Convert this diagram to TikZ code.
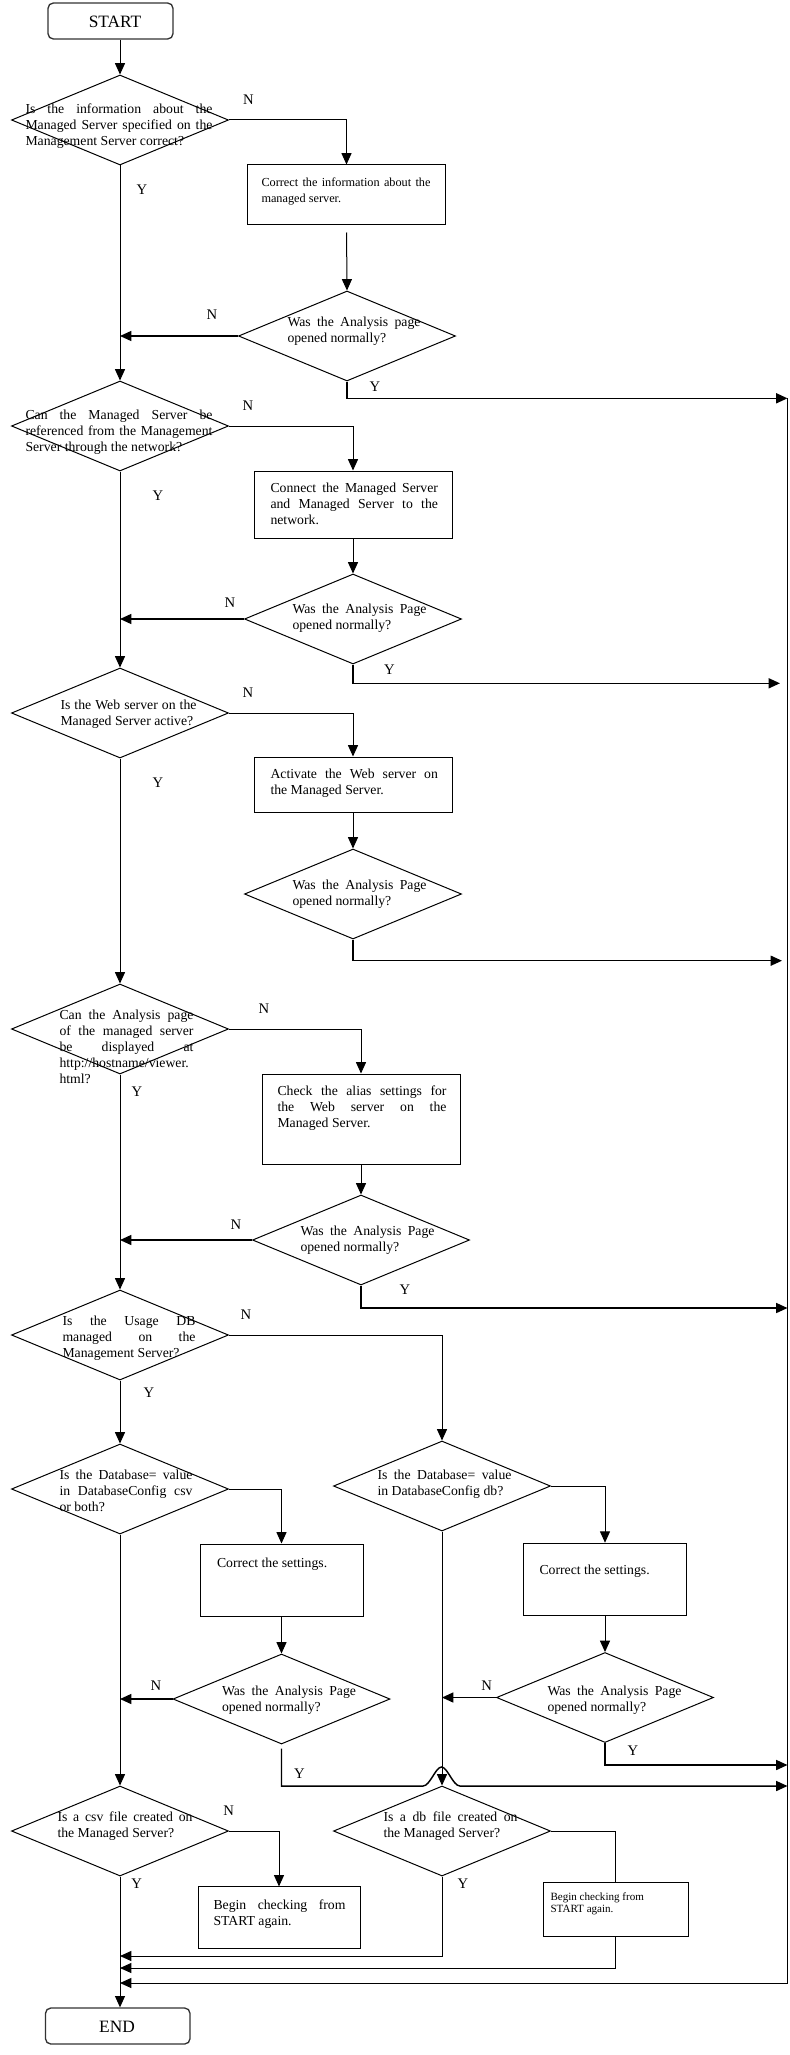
\documentclass[tikz,border=0pt]{standalone}
\usepackage{fontspec}
\setmainfont{Liberation Serif}
\usetikzlibrary{arrows.meta,shapes.geometric,calc}
\begin{document}
\begin{tikzpicture}[x=0.75pt,y=-0.75pt,line width=0.75pt,
  dia/.style={draw, diamond, minimum width=162.75pt, minimum height=67.5pt, inner sep=0pt},
  box/.style={draw, rectangle, inner sep=0pt},
  term/.style={draw=black!80, line width=1pt, rounded corners=4pt, inner sep=0pt},
  txt/.style={inner sep=0pt, anchor=north west, align=justify, font={\fontsize{10.3}{12}\selectfont},
    execute at begin node={\hyphenpenalty=10000\exhyphenpenalty=10000\tolerance=10000\strut}},
  small/.style={font={\fontsize{9.2}{12}\selectfont}},
  tiny/.style={align=left, font={\fontsize{8.3}{9.5}\selectfont}},
  lab/.style={inner sep=0pt, font={\fontsize{11}{13}\selectfont}},
  big/.style={inner sep=0pt, font={\fontsize{13}{15}\selectfont}},
  arr/.style={-{Triangle[length=8.5pt,width=7.5pt]}},
  thk/.style={line width=1.1pt},
]
\useasboundingbox (0,0) rectangle (789,2055);

% terminals
\node[term, minimum width=93.75pt, minimum height=27pt] (start) at (110.5,21) {};
\node[big] (startt) at (115,22) {START};
\node[term, minimum width=108.4pt, minimum height=27pt] (end) at (117.75,2026) {};
\node[big] (endt) at (117,2027) {END};

% decisions
\node[dia] (d1) at (120,120) {};
\node[dia] (d2) at (347,336) {};
\node[dia] (d3) at (120,426) {};
\node[dia] (d4) at (353,619) {};
\node[dia] (d5) at (120,713) {};
\node[dia] (d6) at (353,894) {};
\node[dia] (d7) at (120,1029) {};
\node[dia] (d8) at (361,1240) {};
\node[dia] (d9) at (120,1335) {};
\node[dia] (d10) at (120,1489) {};
\node[dia] (d11) at (442,1486) {};
\node[dia] (d12) at (281.5,1699) {};
\node[dia] (d13) at (605,1697.5) {};
\node[dia] (d14) at (120,1831) {};
\node[dia] (d15) at (442,1831) {};

% boxes
\node[box, minimum width=148.5pt, minimum height=44.25pt] (b1) at (346.5,194.5) {};
\node[box, minimum width=148.5pt, minimum height=50.25pt] (b2) at (353,504.5) {};
\node[box, minimum width=148.5pt, minimum height=41.25pt] (b3) at (353,784.5) {};
\node[box, minimum width=148.5pt, minimum height=67.5pt] (b4) at (361,1119) {};
\node[box, minimum width=122.25pt, minimum height=54pt] (b5) at (281.5,1580) {};
\node[box, minimum width=122.25pt, minimum height=54pt] (b6) at (605,1579.2) {};
\node[box, minimum width=121.5pt, minimum height=46pt] (b7) at (279,1917.6) {};
\node[box, minimum width=108.75pt, minimum height=40.5pt] (b8) at (615.5,1909.5) {};

% decision texts
\node[txt, text width=140.25pt] (t1) at (25,102) {Is the information about the\linebreak Managed Server specified on the\linebreak Management Server correct?};
\node[txt, text width=99.75pt] (t2) at (287,315) {Was the Analysis page\linebreak opened normally?};
\node[txt, text width=140.25pt] (t3) at (25,408) {Can the Managed Server be\linebreak referenced from the Management\linebreak Server through the network?};
\node[txt, text width=100.5pt] (t4) at (292,602) {Was the Analysis Page\linebreak opened normally?};
\node[txt, text width=102pt] (t5) at (60,698) {Is the Web server on the\linebreak Managed Server active?};
\node[txt, text width=100.5pt] (t6) at (292,878) {Was the Analysis Page\linebreak opened normally?};
\node[txt, text width=100.5pt] (t7) at (59,1008) {Can the Analysis page\linebreak of the managed server\linebreak be displayed at\linebreak http://hostname/viewer.\linebreak html?};
\node[txt, text width=100.5pt] (t8) at (300,1224) {Was the Analysis Page\linebreak opened normally?};
\node[txt, text width=99.75pt] (t9) at (62,1314) {Is the Usage DB\linebreak managed on the\linebreak Management Server?};
\node[txt, text width=99.75pt] (t10) at (59,1468) {Is the Database= value\linebreak in DatabaseConfig csv\linebreak or both?};
\node[txt, text width=100.5pt] (t11) at (377,1468) {Is the Database= value\linebreak in DatabaseConfig db?};
\node[txt, text width=100.5pt] (t12) at (221.5,1683.6) {Was the Analysis Page\linebreak opened normally?};
\node[txt, text width=100.5pt] (t13) at (547,1683.6) {Was the Analysis Page\linebreak opened normally?};
\node[txt, text width=101.25pt] (t14) at (57,1810) {Is a csv file created on\linebreak the Managed Server?};
\node[txt, text width=100.5pt] (t15) at (383,1810) {Is a db file created on\linebreak the Managed Server?};

% box texts
\node[txt, small, text width=126.75pt] (bt1) at (261,175) {Correct the information about the\linebreak managed server.};
\node[txt, text width=125.6pt] (bt2) at (270,481) {Connect the Managed Server\linebreak and Managed Server to the\linebreak network.};
\node[txt, text width=125.6pt] (bt3) at (270,767) {Activate the Web server on\linebreak the Managed Server.};
\node[txt, text width=126.75pt] (bt4) at (277,1084) {Check the alias settings for\linebreak the Web server on the\linebreak Managed Server.};
\node[txt, text width=110pt] (bt5) at (216.5,1555.3) {Correct the settings.};
\node[txt, text width=110pt] (bt6) at (539,1563.2) {Correct the settings.};
\node[txt, text width=99pt] (bt7) at (213,1897.3) {Begin checking from\linebreak START again.};
\node[txt, tiny] (bt8) at (550,1892) {Begin checking from\\START again.};

% helper coordinates
\coordinate (r1) at (787.5,398.3);
\coordinate (r2) at (780,683.3);
\coordinate (r3) at (782,960.7);
\coordinate (r4) at (787.5,1308);
\coordinate (r5) at (787.5,1765);
\coordinate (h1) at (423,1786);
\coordinate (hp) at (441.5,1767);
\coordinate (h2) at (460,1786);
\coordinate (r6) at (787.5,1786);
\coordinate (m1) at (120,1956);
\coordinate (m2) at (120,1968);
\coordinate (m3) at (120,1983);

% main column
\draw[arr] (start.south -| d1.north) -- (d1.north);
\draw[arr] (d1.south) -- (d3.north);
\draw[arr] (d3.south) -- (d5.north);
\draw[arr] (d5.south) -- (d7.north);
\draw[arr] (d7.south) -- (d9.north);
\draw[arr] (d9.south) -- (d10.north);
\draw[arr] (d10.south) -- (d14.north);
\draw[arr] (d14.south) -- (end.north -| d14.south);

% branch 1
\draw[arr] (d1.east) -| (b1.north);
\draw[arr, shorten <=6pt] (b1.south) -- (d2.north);
\draw[arr, thk] (d2.west) -- (d2.west -| d1.south);
\draw[arr, thk] (d2.south) |- (r1);
% branch 2
\draw[arr] (d3.east) -| (b2.north);
\draw[arr] (b2.south) -- (d4.north);
\draw[arr, thk] (d4.west) -- (d4.west -| d3.south);
\draw[arr, thk] (d4.south) |- (r2);
% branch 3
\draw[arr] (d5.east) -| (b3.north);
\draw[arr] (b3.south) -- (d6.north);
\draw[arr, thk] (d6.south) |- (r3);
% branch 4
\draw[arr] (d7.east) -| (b4.north);
\draw[arr] (b4.south) -- (d8.north);
\draw[arr, thk] (d8.west) -- (d8.west -| d7.south);
\draw[arr, thk] (d8.south) |- (r4);
% usage DB
\draw[arr] (d9.east) -| (d11.north);
\draw[arr] (d10.east) -| (b5.north);
\draw[arr] (b5.south) -- (d12.north);
\draw[arr, thk] (d12.west) -- (d12.west -| d10.south);
\draw[arr, thk, shorten <=3pt] (d12.south) |- (h1) .. controls +(7,0) and +(-6,0) .. (hp) .. controls +(6,0) and +(-7,0) .. (h2) -- (r6);
\draw[arr] (d11.east) -| (b6.north);
\draw[arr] (b6.south) -- (d13.north);
\draw[arr, thk] (d13.west) -- (d13.west -| d11.south);
\draw[arr, thk] (d13.south) |- (r5);
\draw[arr] (d11.south) -- (d15.north);
% files
\draw[arr] (d14.east) -| (b7.north);
\draw (d15.east) -| (b8.north);
\draw[arr] (d15.south) |- (m1);
\draw[arr] (b8.south) |- (m2);
\draw[arr] (r1) |- (m3);

% labels
\node[lab] (n1) at (248.5,100) {N};
\node[lab] (y1) at (142,190) {Y};
\node[lab] (n2) at (212,315) {N};
\node[lab] (y2) at (375,387) {Y};
\node[lab] (n3) at (248,406) {N};
\node[lab] (y3) at (158,496) {Y};
\node[lab] (n4) at (230,603) {N};
\node[lab] (y4) at (389.5,670) {Y};
\node[lab] (n5) at (248,693) {N};
\node[lab] (y5) at (158,783) {Y};
\node[lab] (n7) at (264,1009) {N};
\node[lab] (y7) at (137,1092) {Y};
\node[lab] (n8) at (236,1225) {N};
\node[lab] (y8) at (405,1290) {Y};
\node[lab] (n9) at (246,1315) {N};
\node[lab] (y9) at (149,1393) {Y};
\node[lab] (n12) at (156,1685.5) {N};
\node[lab] (n13) at (486.6,1685.5) {N};
\node[lab] (y12) at (299.5,1774) {Y};
\node[lab] (y13) at (633,1751) {Y};
\node[lab] (n14) at (228.6,1810.8) {N};
\node[lab] (y14) at (136.6,1883.5) {Y};
\node[lab] (y15) at (463,1883.5) {Y};
\end{tikzpicture}
\end{document}
